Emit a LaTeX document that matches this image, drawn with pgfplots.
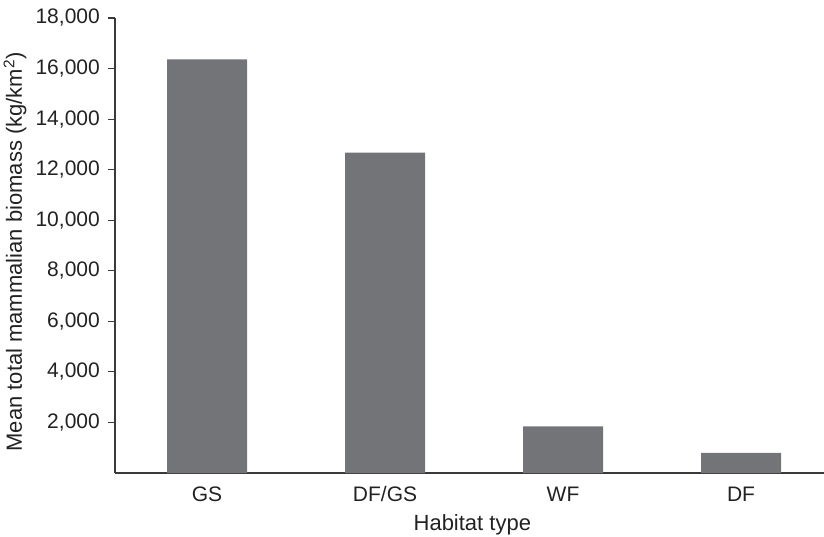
\documentclass[border=0pt]{standalone}
\usepackage{pgfplots}
\pgfplotsset{compat=1.18}
\usepackage{fontspec}
\setmainfont{Liberation Sans}
\definecolor{bargray}{HTML}{737478}
\definecolor{axgray}{HTML}{3A3A3A}
\definecolor{txt}{HTML}{222222}
\begin{document}
\begin{tikzpicture}
\useasboundingbox (-115pt,-63pt) rectangle (709pt,473pt);
\begin{axis}[
  at={(0,0)}, anchor=south west,
  scale only axis, width=709pt, height=455pt,
  xmin=-0.517, xmax=3.466, ymin=0, ymax=18000,
  axis x line=bottom, axis y line=left,
  axis line style={-, draw=axgray, line width=1.1pt},
  xtick={0,1,2,3}, xticklabels={GS,DF/GS,WF,DF},
  x tick style={draw=none},
  ytick={2000,4000,...,18000},
  y tick style={draw=axgray, line width=1.1pt},
  tick align=outside, major tick length=7pt,
  /pgf/number format/assume math mode=true,
  /pgf/number format/1000 sep={,},
  scaled y ticks=false,
  tick label style={font=\fontsize{21}{25}\selectfont, text=txt},
  yticklabel style={anchor=east, inner sep=0pt, xshift=-8pt},
  xticklabel style={anchor=base, inner sep=0pt, yshift=-21pt},
  label style={font=\fontsize{22}{26}\selectfont, text=txt},
  xlabel={Habitat type},
  xlabel style={at={(axis description cs:0.504,0)}, anchor=base, yshift=-57pt, inner sep=0pt},
  ylabel={Mean total mammalian biomass (kg/km\textsuperscript{2})},
  ylabel style={at={(axis description cs:-0.141,0.486)}, anchor=center, inner sep=0pt},
  ybar, bar width=80pt, bar shift=0pt,
  clip=false,
]
\addplot[fill=bargray, draw=none] coordinates {(0,16360) (1,12670) (2,1840) (3,800)};
\end{axis}
\end{tikzpicture}
\end{document}
